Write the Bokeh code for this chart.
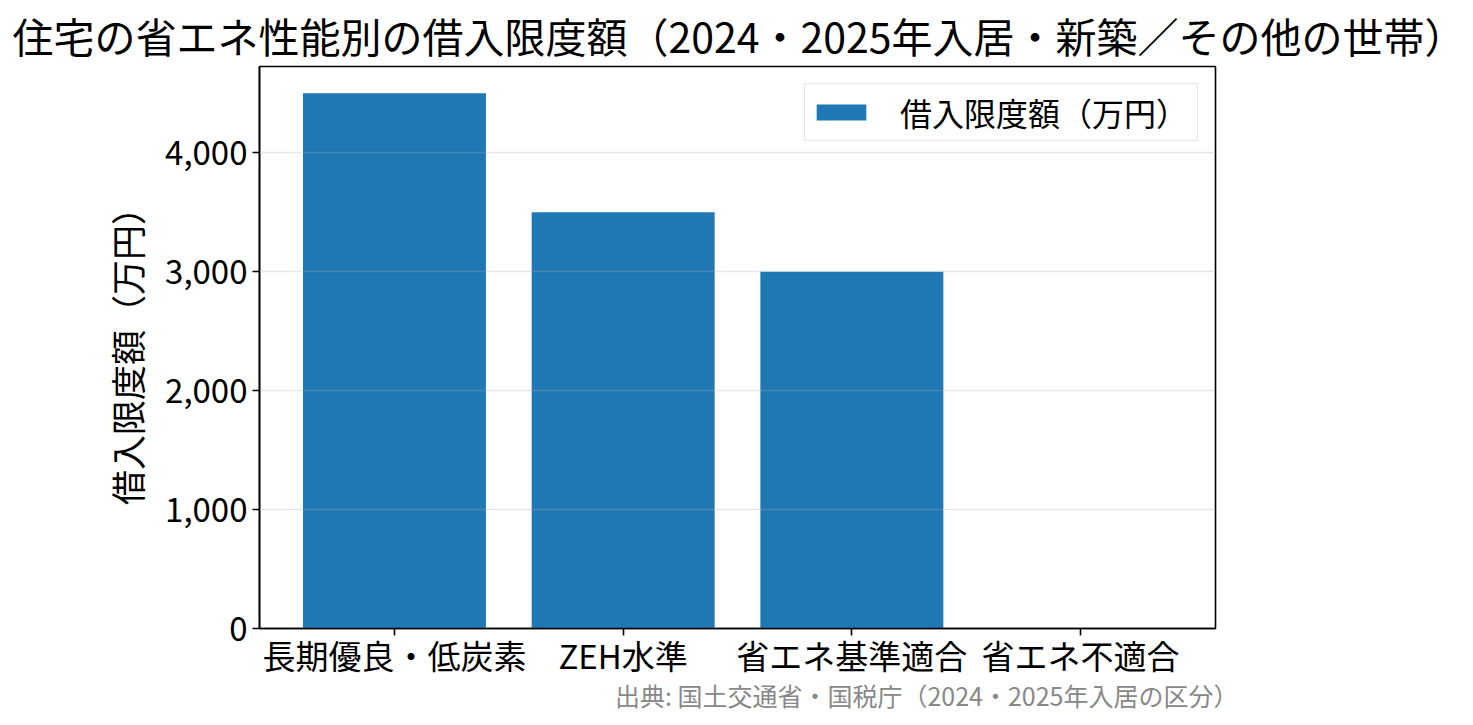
from bokeh.plotting import figure
from bokeh.models import (Range1d, FixedTicker, NumeralTickFormatter, Legend,
                          LegendItem, Title, ColumnDataSource)
from bokeh.embed import file_html
from bokeh.resources import INLINE

FONT = "Noto Sans CJK JP"

categories = ["長期優良・低炭素", "ZEH水準", "省エネ基準適合", "省エネ不適合"]
limits = [4500, 3500, 3000, 0]  # 借入限度額（万円）
y_ticks = [0, 1000, 2000, 3000, 4000]

title_text = "住宅の省エネ性能別の借入限度額（2024・2025年入居・新築／その他の世帯）"
source_text = "出典: 国土交通省・国税庁（2024・2025年入居の区分）"

xs = list(range(len(categories)))
src = ColumnDataSource(data=dict(x=xs, top=limits, name=categories))

p = figure(frame_width=956, frame_height=562, output_backend="svg",
           toolbar_location=None,
           x_range=Range1d(-0.59, len(categories) - 1 + 0.59),
           y_range=Range1d(0, max(limits) * 1.05),
           min_border_left=259, min_border_right=252,
           min_border_top=66, min_border_bottom=92)

bars = p.vbar(x="x", top="top", width=0.8, source=src,
              fill_color="#1f77b4", line_color=None)

p.add_layout(Title(text=title_text, text_font=FONT, text_font_size="41px",
                   text_font_style="normal", align="left", text_color="black",
                   offset=-247, standoff=4),
             "above")

# source note under the x axis, right-aligned
p.add_layout(Title(text=source_text, text_font=FONT, text_font_size="25px",
                   text_font_style="normal", align="right", text_color="#888888",
                   offset=-23, standoff=-14),
             "below")

# axes
p.xaxis.ticker = FixedTicker(ticks=xs)
p.xaxis.major_label_overrides = {i: c for i, c in enumerate(categories)}
p.xaxis.major_label_standoff = -5
p.yaxis.ticker = FixedTicker(ticks=y_ticks)
p.yaxis.formatter = NumeralTickFormatter(format="0,0")
p.yaxis.axis_label = "借入限度額（万円）"
for ax in (p.xaxis, p.yaxis):
    ax.major_label_text_font = FONT
    ax.major_label_text_font_size = "33px"
    ax.major_label_text_color = "black"
    ax.axis_line_width = 1.6
    ax.axis_line_color = "black"
    ax.major_tick_line_width = 1.6
    ax.major_tick_line_color = "black"
    ax.major_tick_in = 0
    ax.major_tick_out = 7
    ax.minor_tick_line_color = None
p.yaxis.axis_label_text_font = FONT
p.yaxis.axis_label_text_font_size = "35px"
p.yaxis.axis_label_text_font_style = "normal"
p.yaxis.axis_label_text_color = "black"
p.yaxis.axis_label_standoff = 10

p.xgrid.grid_line_color = None
p.ygrid.ticker = FixedTicker(ticks=y_ticks[1:])
p.ygrid.grid_line_color = "#b0b0b0"
p.ygrid.grid_line_alpha = 0.3
p.ygrid.grid_line_width = 1.6
p.ygrid.level = "overlay"

p.outline_line_color = "black"
p.outline_line_width = 1.6

legend = Legend(items=[LegendItem(label="借入限度額（万円）", renderers=[bars])],
                location="top_right", margin=17, padding=5, spacing=0,
                glyph_width=62, glyph_height=20, label_standoff=28,
                label_width=292,
                label_text_font=FONT, label_text_font_size="32px",
                label_text_color="black",
                border_line_color="#cccccc", border_line_width=1.6,
                background_fill_alpha=0.8)
p.add_layout(legend)

p.background_fill_color = "white"
p.border_fill_color = "white"

open("out.html", "w").write(file_html(p, INLINE))
